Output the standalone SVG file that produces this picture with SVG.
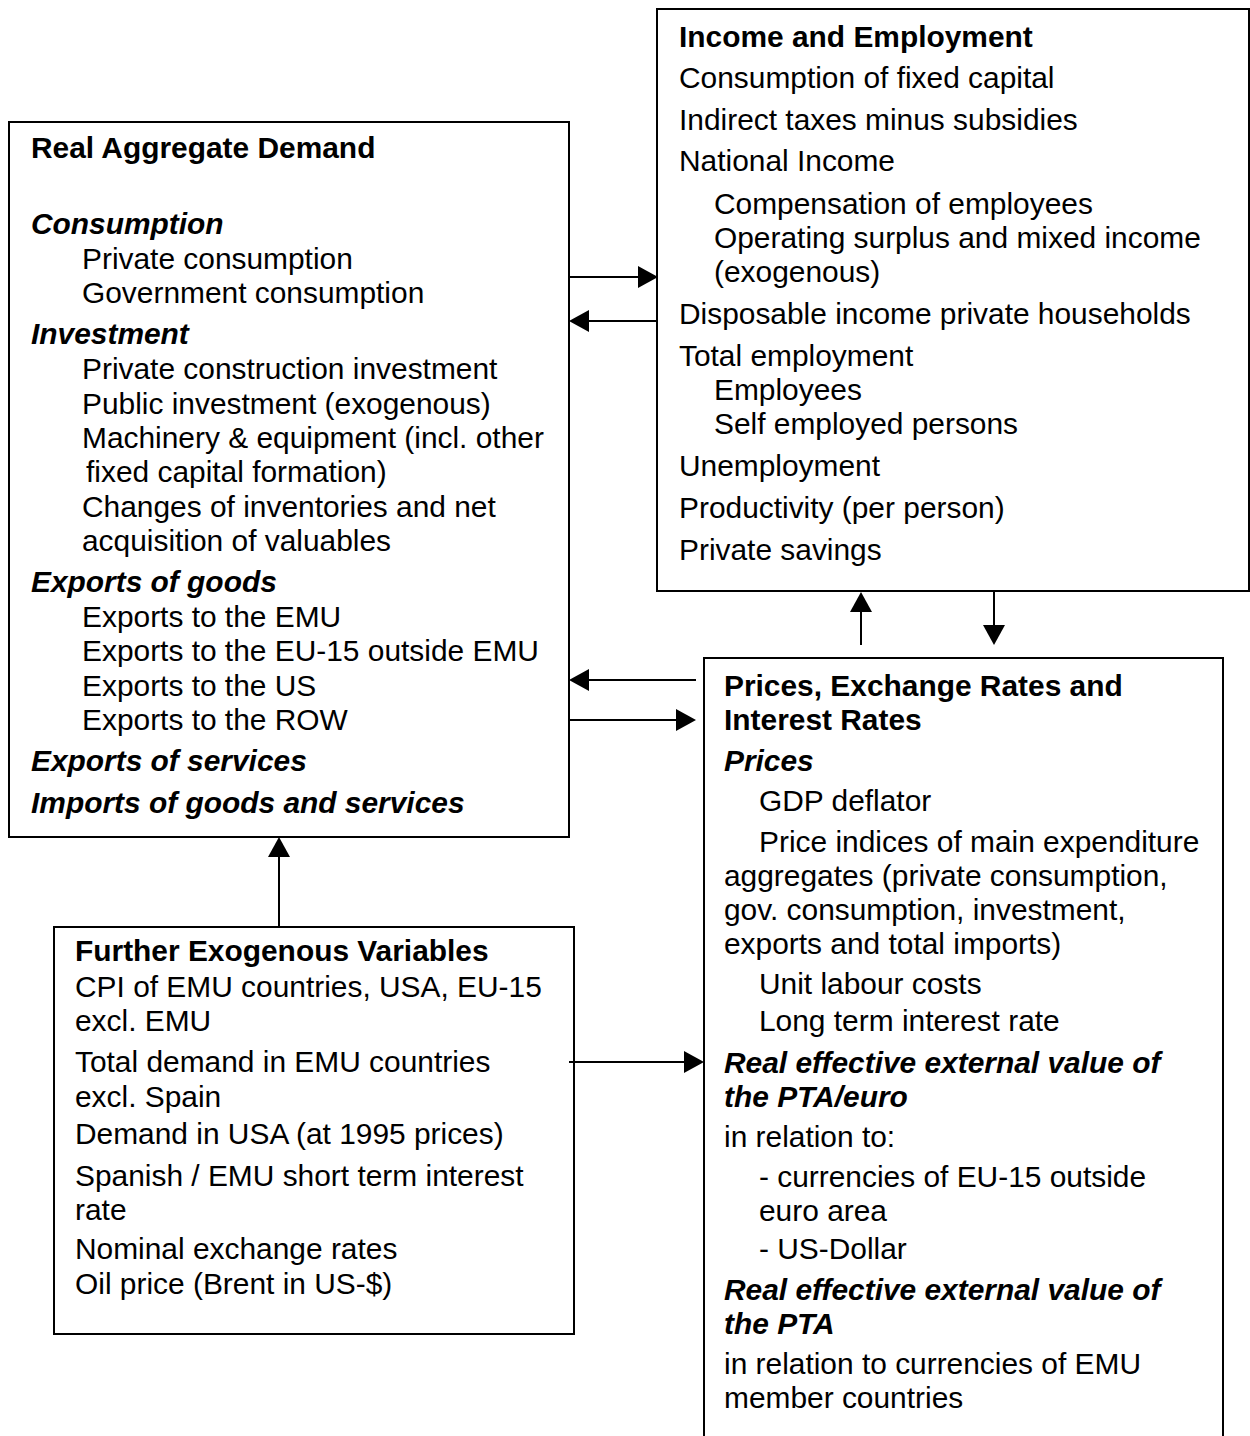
<svg xmlns="http://www.w3.org/2000/svg" width="1250" height="1436" viewBox="0 0 1250 1436">
<defs>
<style>
.box{fill:#fff;stroke:#000;stroke-width:2}
text{font-family:"Liberation Sans",Arial,sans-serif;font-size:29.9px;fill:#000}
.b{font-weight:bold}
.bi{font-weight:bold;font-style:italic}
.c{stroke:#000;stroke-width:2;fill:none}
.h{fill:#000;stroke:none}
</style>
</defs>
<rect width="1250" height="1436" fill="#fff"/>
<g id="real-aggregate-demand">
<rect class="box" x="9" y="122" width="560" height="715"/>
<text class="b" x="31" y="158">Real Aggregate Demand</text>
<text class="bi" x="31" y="234">Consumption</text>
<text x="82" y="269">Private consumption</text>
<text x="82" y="303">Government consumption</text>
<text class="bi" x="31" y="344">Investment</text>
<text x="82" y="379">Private construction investment</text>
<text x="82" y="414">Public investment (exogenous)</text>
<text x="82" y="448">Machinery &amp; equipment (incl. other</text>
<text x="86" y="482">fixed capital formation)</text>
<text x="82" y="517">Changes of inventories and net</text>
<text x="82" y="551">acquisition of valuables</text>
<text class="bi" x="31" y="592">Exports of goods</text>
<text x="82" y="627">Exports to the EMU</text>
<text x="82" y="661">Exports to the EU-15 outside EMU</text>
<text x="82" y="696">Exports to the US</text>
<text x="82" y="730">Exports to the ROW</text>
<text class="bi" x="31" y="771">Exports of services</text>
<text class="bi" x="31" y="813">Imports of goods and services</text>
</g>
<g id="income-employment">
<rect class="box" x="657" y="9" width="592" height="582"/>
<text class="b" x="679" y="47">Income and Employment</text>
<text x="679" y="88">Consumption of fixed capital</text>
<text x="679" y="130">Indirect taxes minus subsidies</text>
<text x="679" y="171">National Income</text>
<text x="714" y="214">Compensation of employees</text>
<text x="714" y="248">Operating surplus and mixed income</text>
<text x="714" y="282">(exogenous)</text>
<text x="679" y="324">Disposable income private households</text>
<text x="679" y="366">Total employment</text>
<text x="714" y="400">Employees</text>
<text x="714" y="434">Self employed persons</text>
<text x="679" y="476">Unemployment</text>
<text x="679" y="518">Productivity (per person)</text>
<text x="679" y="560">Private savings</text>
</g>
<g id="further-exogenous">
<rect class="box" x="54" y="927" width="520" height="407"/>
<text class="b" x="75" y="961">Further Exogenous Variables</text>
<text x="75" y="997">CPI of EMU countries, USA, EU-15</text>
<text x="75" y="1031">excl. EMU</text>
<text x="75" y="1072">Total demand in EMU countries</text>
<text x="75" y="1107">excl. Spain</text>
<text x="75" y="1144">Demand in USA (at 1995 prices)</text>
<text x="75" y="1186">Spanish / EMU short term interest</text>
<text x="75" y="1220">rate</text>
<text x="75" y="1259">Nominal exchange rates</text>
<text x="75" y="1294">Oil price (Brent in US-$)</text>
</g>
<g id="prices-exchange-interest">
<rect class="box" x="704" y="658" width="519" height="800"/>
<text class="b" x="724" y="696">Prices, Exchange Rates and</text>
<text class="b" x="724" y="730">Interest Rates</text>
<text class="bi" x="724" y="771">Prices</text>
<text x="759" y="811">GDP deflator</text>
<text x="759" y="852">Price indices of main expenditure</text>
<text x="724" y="886">aggregates (private consumption,</text>
<text x="724" y="920">gov. consumption, investment,</text>
<text x="724" y="954">exports and total imports)</text>
<text x="759" y="994">Unit labour costs</text>
<text x="759" y="1031">Long term interest rate</text>
<text class="bi" x="724" y="1073">Real effective external value of</text>
<text class="bi" x="724" y="1107">the PTA/euro</text>
<text x="724" y="1147">in relation to:</text>
<text x="759" y="1187">- currencies of EU-15 outside</text>
<text x="759" y="1221">euro area</text>
<text x="759" y="1259">- US-Dollar</text>
<text class="bi" x="724" y="1300">Real effective external value of</text>
<text class="bi" x="724" y="1334">the PTA</text>
<text x="724" y="1374">in relation to currencies of EMU</text>
<text x="724" y="1408">member countries</text>
</g>
<g id="connectors">
<line class="c" x1="569" y1="277" x2="640" y2="277"/>
<path class="h" d="M638,266 L658,277 L638,288 z"/>
<line class="c" x1="657" y1="321" x2="587" y2="321"/>
<path class="h" d="M589,310 L569,321 L589,332 z"/>
<line class="c" x1="861" y1="645" x2="861" y2="610"/>
<path class="h" d="M850,612 L861,592 L872,612 z"/>
<line class="c" x1="994" y1="592" x2="994" y2="627"/>
<path class="h" d="M983,625 L994,645 L1005,625 z"/>
<line class="c" x1="696" y1="680" x2="587" y2="680"/>
<path class="h" d="M589,669 L569,680 L589,691 z"/>
<line class="c" x1="569" y1="720" x2="678" y2="720"/>
<path class="h" d="M676,709 L696,720 L676,731 z"/>
<line class="c" x1="279" y1="927" x2="279" y2="855"/>
<path class="h" d="M268,857 L279,837 L290,857 z"/>
<line class="c" x1="569" y1="1062" x2="686" y2="1062"/>
<path class="h" d="M684,1051 L704,1062 L684,1073 z"/>
</g>
</svg>
